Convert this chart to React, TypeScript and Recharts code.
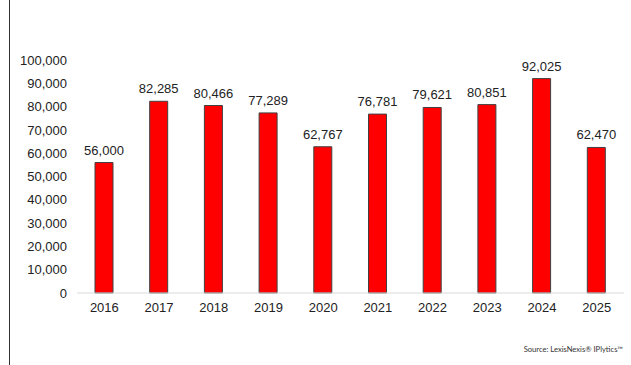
import React from "react";
import { BarChart, Bar, XAxis, YAxis, LabelList } from "recharts";

const years = ["2016", "2017", "2018", "2019", "2020", "2021", "2022", "2023", "2024", "2025"];
const counts = [56000, 82285, 80466, 77289, 62767, 76781, 79621, 80851, 92025, 62470];
const yTicks = [0, 10000, 20000, 30000, 40000, 50000, 60000, 70000, 80000, 90000, 100000];

const data = years.map((y, i) => ({ year: y, value: counts[i] }));
const fmt = (v: number) => v.toLocaleString("en-US");

export default function App() {
  return (
    <div style={{ position: "absolute", left: 0, top: 0, width: 631, height: 365, background: "#fff" }}>
      <div style={{ position: "absolute", left: 9, top: 0, width: 1, height: 365, background: "#333" }} />
      <BarChart
        width={631}
        height={365}
        data={data}
        margin={{ top: 60, right: 7, bottom: 42, left: 0 }}
        barCategoryGap={0}
      >
        <XAxis
          dataKey="year"
          height={30}
          tickLine={false}
          tickSize={0}
          tickMargin={10}
          axisLine={{ stroke: "#d9d9d9", strokeWidth: 1 }}
          tick={{ fill: "#222", fontSize: 13, fontFamily: "Liberation Sans, Arial, sans-serif" }}
        />
        <YAxis
          width={77}
          domain={[0, 100000]}
          ticks={yTicks}
          tickFormatter={fmt}
          axisLine={false}
          tickLine={false}
          tickSize={0}
          tickMargin={10}
          interval={0}
          tick={{ fill: "#222", fontSize: 13, fontFamily: "Liberation Sans, Arial, sans-serif" }}
        />
        <Bar dataKey="value" fill="#ff0000" stroke="#404040" strokeWidth={1} barSize={18} isAnimationActive={false}>
          <LabelList
            dataKey="value"
            position="top"
            offset={8}
            formatter={(v: any) => fmt(Number(v))}
            style={{ fill: "#222", fontSize: 13, fontFamily: "Liberation Sans, Arial, sans-serif" }}
          />
        </Bar>
      </BarChart>
      <div
        style={{
          position: "absolute",
          right: 8,
          top: 344,
          fontSize: 7.6,
          color: "#333",
          fontFamily: "Lato, sans-serif",
          whiteSpace: "nowrap",
        }}
      >
        Source: LexisNexis® IPlytics™
      </div>
    </div>
  );
}
